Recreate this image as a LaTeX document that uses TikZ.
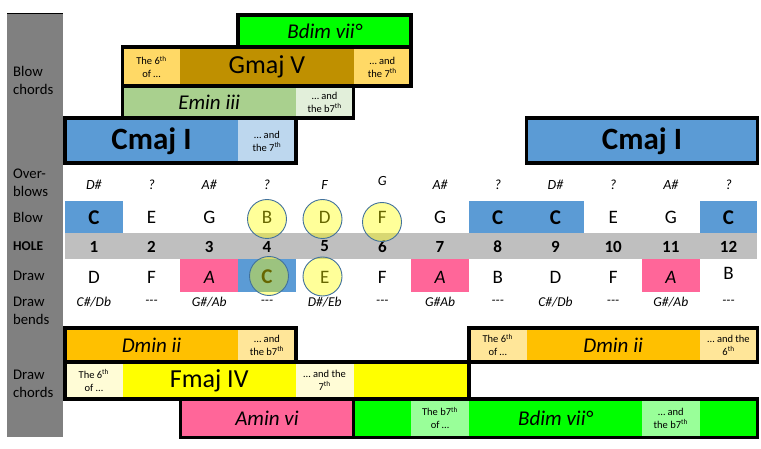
\documentclass[tikz,border=0pt]{standalone}
\usepackage{fontspec}
\setmainfont{Carlito}
\definecolor{cblue}{HTML}{5B9BD5}
\definecolor{lblue}{HTML}{BDD7EE}
\definecolor{cgreen}{HTML}{00FF00}
\definecolor{lgreen}{HTML}{99FF99}
\definecolor{emin}{HTML}{A9D08E}
\definecolor{lemin}{HTML}{E2EFDA}
\definecolor{dgold}{HTML}{BF9000}
\definecolor{lgold}{HTML}{FFD966}
\definecolor{corange}{HTML}{FFC000}
\definecolor{lorange}{HTML}{FFE699}
\definecolor{cyel}{HTML}{FFFF00}
\definecolor{cream}{HTML}{FFFCD6}
\definecolor{cpink}{HTML}{FF6699}
\definecolor{holegray}{HTML}{BFBFBF}
\definecolor{labgray}{HTML}{808080}
\definecolor{circedge}{HTML}{41719C}
\newcommand{\cseg}[5]{\fill[#3] ({65+#1*57.7},#4) rectangle ({65+#2*57.7},#5);}
\newcommand{\cbox}[4]{\draw[chordbox] ({65+#1*57.7},#3) rectangle ({65+#2*57.7},#4);}
\newcommand{\tdash}{-\kern0pt-\kern0pt-}
\begin{document}
\begin{tikzpicture}[x=1pt,y={(0pt,-1pt)},
  chordbox/.style={draw=black, line width=3.5pt},
  smalltxt/.style={font=\fontsize{10.5}{13}\selectfont, align=center, inner sep=0pt},
  chordit/.style={font=\fontsize{21}{24}\selectfont\itshape, inner sep=0pt},
  chordbig/.style={font=\fontsize{26}{30}\selectfont, inner sep=0pt},
  chordbold/.style={font=\fontsize{31}{36}\selectfont\bfseries, inner sep=0pt},
  lab/.style={font=\fontsize{14.7}{17.7}\selectfont, align=left, anchor=west, inner sep=0pt},
  holelab/.style={font=\fontsize{13.5}{16}\selectfont\bfseries, anchor=west, inner sep=0pt},
  notetxt/.style={font=\fontsize{19}{22}\selectfont, inner sep=0pt},
  notebold/.style={font=\fontsize{21}{24}\selectfont\bfseries, inner sep=0pt},
  noteit/.style={font=\fontsize{19}{22}\selectfont\itshape, inner sep=0pt},
  holenum/.style={font=\fontsize{17}{20}\selectfont\bfseries, inner sep=0pt},
  obtxt/.style={font=\fontsize{14}{16}\selectfont\itshape, inner sep=0pt},
  bendtxt/.style={font=\fontsize{13.5}{16}\selectfont\itshape, inner sep=0pt},
  hl/.style={circle, minimum size=39pt, inner sep=0pt, draw=circedge, line width=0.9pt, fill=cyel, fill opacity=0.4, draw opacity=1}
]
\useasboundingbox (0,0) rectangle (761,449);
\fill[white] (0,0) rectangle (761,449);

% left label column
\fill[labgray] (7,13) rectangle (63,437);
\draw[black, line width=1.5pt] (7,13.5) -- (63,13.5);
\node[lab] (lblBC) at (13,80.5) {Blow\\chords};
\node[lab] (lblOB) at (13,183) {Over-\\blows};
\node[lab] (lblB) at (13,217.5) {Blow};
\node[holelab] (lblH) at (13,246.5) {HOLE};
\node[lab] (lblD) at (13,276) {Draw};
\node[lab] (lblDB) at (13,310.5) {Draw\\bends};
\node[lab] (lblDC) at (13,384) {Draw\\chords};

% ---------- blow chords fills ----------
\cseg{3}{6}{cgreen}{15}{47}
\cseg{1}{2}{lgold}{47}{86}
\cseg{2}{5}{dgold}{47}{86}
\cseg{5}{6}{lgold}{47}{86}
\cseg{1}{4}{emin}{86}{118}
\cseg{4}{5}{lemin}{86}{118}
\cseg{0}{3}{cblue}{118}{163}
\cseg{3}{4}{lblue}{118}{163}
\cseg{8}{12}{cblue}{118}{163}

% ---------- draw chords fills ----------
\cseg{0}{3}{corange}{328}{362}
\cseg{3}{4}{lorange}{328}{362}
\cseg{7}{8}{lorange}{328}{362}
\cseg{8}{11}{corange}{328}{362}
\cseg{11}{12}{lorange}{328}{362}
\cseg{0}{1}{cream}{362}{399}
\cseg{1}{4}{cyel}{362}{399}
\cseg{4}{5}{cream}{362}{399}
\cseg{5}{7}{cyel}{362}{399}
\cseg{2}{5}{cpink}{399}{437.5}
\cseg{5}{6}{cgreen}{399}{437.5}
\cseg{6}{7}{lgreen}{399}{437.5}
\cseg{7}{10}{cgreen}{399}{437.5}
\cseg{10}{11}{lgreen}{399}{437.5}
\cseg{11}{12}{cgreen}{399}{437.5}

% ---------- chord borders ----------
\cbox{3}{6}{15}{47}
\cbox{1}{6}{47}{86}
\cbox{1}{5}{86}{118}
\cbox{0}{4}{118}{163}
\cbox{8}{12}{118}{163}
\cbox{0}{4}{328}{362}
\cbox{7}{12}{328}{362}
\cbox{0}{7}{362}{399}
\cbox{2}{5}{399}{437.5}
\cbox{5}{12}{399}{437.5}

% ---------- chord texts ----------
\node[chordit] (tBdimU) at ({65+4.5*57.7},31.5) {Bdim vii°};
\node[smalltxt] (tG6) at ({65+1.5*57.7},67) {The 6\textsuperscript{th}\\of …};
\node[chordbig] (tGmaj) at ({65+3.5*57.7},67) {Gmaj V};
\node[smalltxt] (tG7) at ({65+5.5*57.7},67) {… and\\the 7\textsuperscript{th}};
\node[chordit] (tEmin) at ({65+2.5*57.7},102.5) {Emin iii};
\node[smalltxt] (tEb7) at ({65+4.5*57.7},102.5) {… and\\the b7\textsuperscript{th}};
\node[chordbold] (tCmajL) at ({65+1.5*57.7},141) {Cmaj I};
\node[smalltxt] (tC7) at ({65+3.5*57.7},141) {… and\\the 7\textsuperscript{th}};
\node[chordbold] (tCmajR) at ({65+10*57.7},141) {Cmaj I};

\node[chordit] (tDminL) at ({65+1.5*57.7},345) {Dmin ii};
\node[smalltxt] (tDb7) at ({65+3.5*57.7},345) {… and\\the b7\textsuperscript{th}};
\node[smalltxt] (tD6a) at ({65+7.5*57.7},345) {The 6\textsuperscript{th}\\of …};
\node[chordit] (tDminR) at ({65+9.5*57.7},345) {Dmin ii};
\node[smalltxt] (tD6b) at ({65+11.5*57.7},345) {… and the\\6\textsuperscript{th}};
\node[smalltxt] (tF6) at ({65+0.5*57.7},380.5) {The 6\textsuperscript{th}\\of …};
\node[chordbig] (tFmaj) at ({65+2.5*57.7},380.5) {Fmaj IV};
\node[smalltxt] (tF7) at ({65+4.5*57.7},380.5) {… and the\\7\textsuperscript{th}};
\node[chordit] (tAmin) at ({65+3.5*57.7},418) {Amin vi};
\node[smalltxt] (tBb7a) at ({65+6.5*57.7},418) {The b7\textsuperscript{th}\\of …};
\node[chordit] (tBdimD) at ({65+8.5*57.7},418) {Bdim vii°};
\node[smalltxt] (tBb7b) at ({65+10.5*57.7},418) {… and\\the b7\textsuperscript{th}};

% ---------- grid fills ----------
\foreach \k in {1,8,9,12} \fill[cblue] ({65+(\k-1)*57.7},201) rectangle ({65+\k*57.7},233);
\fill[holegray] (65,233) rectangle ({65+12*57.7},259);
\foreach \k in {3,7,11} \fill[cpink] ({65+(\k-1)*57.7},259) rectangle ({65+\k*57.7},292);
\fill[cblue] ({65+3*57.7},259) rectangle ({65+4*57.7},292);

% overblows
\foreach \t/\yy [count=\i] in {D\#/185,?/185,A\#/185,?/185,F/185,G/181,A\#/185,?/185,D\#/185,?/185,A\#/185,?/185}
  \node[obtxt] (ob\i) at ({65+(\i-0.5)*57.7},\yy) {\t};

% blow notes
\foreach \i in {1,8,9,12} \node[notebold] (bl\i) at ({65+(\i-0.5)*57.7},218) {C};
\foreach \t/\i in {E/2,G/3,B/4,D/5,F/6,G/7,E/10,G/11}
  \node[notetxt] (bl\i) at ({65+(\i-0.5)*57.7},217.5) {\t};

% hole numbers
\foreach \i in {1,...,12} \node[holenum] (h\i) at ({65+(\i-0.5)*57.7},246.5) {\i};

% draw notes
\foreach \t/\i/\yy in {D/1/277,F/2/277,E/5/277,F/6/277,B/8/277,D/9/277,F/10/277,B/12/273}
  \node[notetxt] (dr\i) at ({65+(\i-0.5)*57.7},\yy) {\t};
\foreach \i in {3,7,11} \node[noteit] (dr\i) at ({65+(\i-0.5)*57.7},277) {A};
\node[notebold] (dr4) at ({65+3.5*57.7},277) {C};

% bends
\foreach \t [count=\i] in {C\#/Db,\tdash,G\#/Ab,\tdash,D\#/Eb,\tdash,G\#Ab,\tdash,C\#/Db,\tdash,G\#/Ab,\tdash}
  \node[bendtxt] (bd\i) at ({65+(\i-0.5)*57.7},302) {\t};

% highlight circles
\node[hl] (cB) at (267,219) {};
\node[hl] (cD) at (322.5,219) {};
\node[hl] (cF) at (382,222) {};
\node[hl] (cC) at (269,276) {};
\node[hl] (cE) at (322.5,276.5) {};
\end{tikzpicture}
\end{document}
